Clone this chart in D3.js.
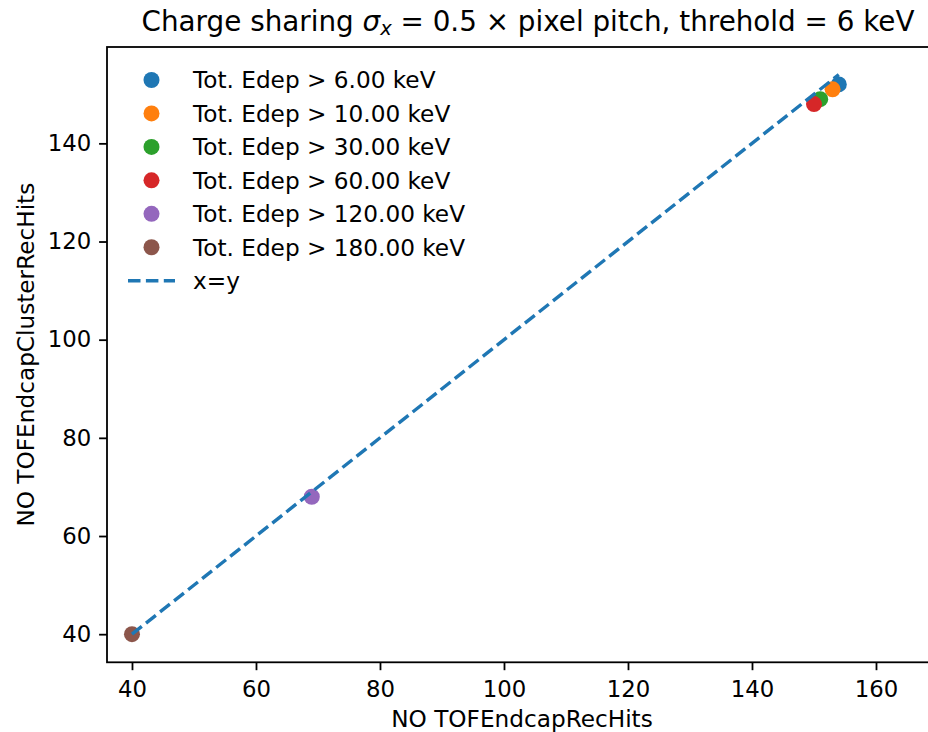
<!DOCTYPE html>
<html>
<head>
<meta charset="utf-8">
<script src="https://cdn.jsdelivr.net/npm/d3@7"></script>
<style>
  html, body { margin: 0; padding: 0; background: #fff; }
  svg { display: block; font-family: "DejaVu Sans", sans-serif; }
</style>
</head>
<body>
<svg id="chart" width="928" height="732"></svg>
<script>
// ---- data ----
const categories = [
  "Tot. Edep > 6.00 keV",
  "Tot. Edep > 10.00 keV",
  "Tot. Edep > 30.00 keV",
  "Tot. Edep > 60.00 keV",
  "Tot. Edep > 120.00 keV",
  "Tot. Edep > 180.00 keV"
];
const xValues = [154, 153, 151, 150, 69, 40];   // NO TOFEndcapRecHits
const yValues = [152, 151, 149, 148, 68, 40];   // NO TOFEndcapClusterRecHits
const colors = ["#1f77b4", "#ff7f0e", "#2ca02c", "#d62728", "#9467bd", "#8c564b"];
const diagRange = [40, 154];                    // x=y reference line
const xTicks = [40, 60, 80, 100, 120, 140, 160];
const yTicks = [40, 60, 80, 100, 120, 140];
const xLimits = [35.97, 169.84];
const yLimits = [34.27, 159.63];

// ---- layout ----
const mLeft = 107, mRight = 937, mTop = 47, mBottom = 662.3;
const fsTick = 22.8;
const fs = 23.2;

const svg = d3.select("#chart");
const x = d3.scaleLinear().domain(xLimits).range([mLeft, mRight]);
const y = d3.scaleLinear().domain(yLimits).range([mBottom, mTop]);

// clip for data
svg.append("defs").append("clipPath").attr("id", "clip")
  .append("rect").attr("x", mLeft).attr("y", mTop)
  .attr("width", mRight - mLeft).attr("height", mBottom - mTop);

const plot = svg.append("g").attr("clip-path", "url(#clip)");

// scatter points
plot.selectAll("circle.pt")
  .data(categories.map((c, i) => ({ c, x: xValues[i], y: yValues[i], col: colors[i] })))
  .join("circle")
  .attr("class", "pt")
  .attr("cx", d => x(d.x))
  .attr("cy", d => y(d.y))
  .attr("r", 8)
  .attr("fill", d => d.col);

// x=y dashed line
plot.append("line")
  .attr("x1", x(diagRange[0])).attr("y1", y(diagRange[0]))
  .attr("x2", x(diagRange[1])).attr("y2", y(diagRange[1]))
  .attr("stroke", "#1f77b4")
  .attr("stroke-width", 3.4)
  .attr("stroke-dasharray", "12.5,5.4");

// axes
const xAxis = svg.append("g")
  .attr("transform", `translate(0,${mBottom})`)
  .call(d3.axisBottom(x).tickValues(xTicks).tickSize(7.9).tickPadding(11.1).tickSizeOuter(0));
const yAxis = svg.append("g")
  .attr("transform", `translate(${mLeft},0)`)
  .call(d3.axisLeft(y).tickValues(yTicks).tickSize(7.9).tickPadding(7.9).tickSizeOuter(0));

[xAxis, yAxis].forEach(g => {
  g.select(".domain").remove();
  g.selectAll(".tick line").attr("stroke", "#000").attr("stroke-width", 1.8);
  g.selectAll(".tick text")
    .attr("fill", "#000")
    .style("font-size", fsTick + "px")
    .style("font-family", "DejaVu Sans");
});

// spines
svg.append("rect")
  .attr("x", mLeft).attr("y", mTop)
  .attr("width", mRight - mLeft).attr("height", mBottom - mTop)
  .attr("fill", "none").attr("stroke", "#000").attr("stroke-width", 1.8);

// axis labels
svg.append("text")
  .attr("x", 522).attr("y", 727)
  .attr("text-anchor", "middle")
  .style("font-size", fs + "px")
  .text("NO TOFEndcapRecHits");

svg.append("text")
  .attr("transform", `translate(34,${(mTop + mBottom) / 2}) rotate(-90)`)
  .attr("text-anchor", "middle")
  .style("font-size", fs + "px")
  .text("NO TOFEndcapClusterRecHits");

// title
const title = svg.append("text")
  .attr("x", 528).attr("y", 31)
  .attr("text-anchor", "middle")
  .style("font-size", "27.8px");
title.append("tspan").text("Charge sharing ");
title.append("tspan").style("font-style", "italic").text("σ");
title.append("tspan").style("font-style", "italic").style("font-size", "19.5px").attr("dy", 4).text("x");
title.append("tspan").attr("dy", -4).text(" = 0.5 × pixel pitch, threhold = 6 keV");

// legend
const legend = svg.append("g");
const rowY = i => 80 + i * 33.45;
categories.forEach((c, i) => {
  legend.append("circle").attr("cx", 151.5).attr("cy", rowY(i)).attr("r", 8).attr("fill", colors[i]);
  legend.append("text").attr("x", 193).attr("y", rowY(i) + 8.4)
    .style("font-size", fs + "px").text(c);
});
const ly = rowY(categories.length);
legend.append("line")
  .attr("x1", 128).attr("x2", 175).attr("y1", ly).attr("y2", ly)
  .attr("stroke", "#1f77b4").attr("stroke-width", 3.4)
  .attr("stroke-dasharray", "12.5,5.4");
legend.append("text").attr("x", 193).attr("y", ly + 8.4)
  .style("font-size", fs + "px").text("x=y");
</script>
</body>
</html>
